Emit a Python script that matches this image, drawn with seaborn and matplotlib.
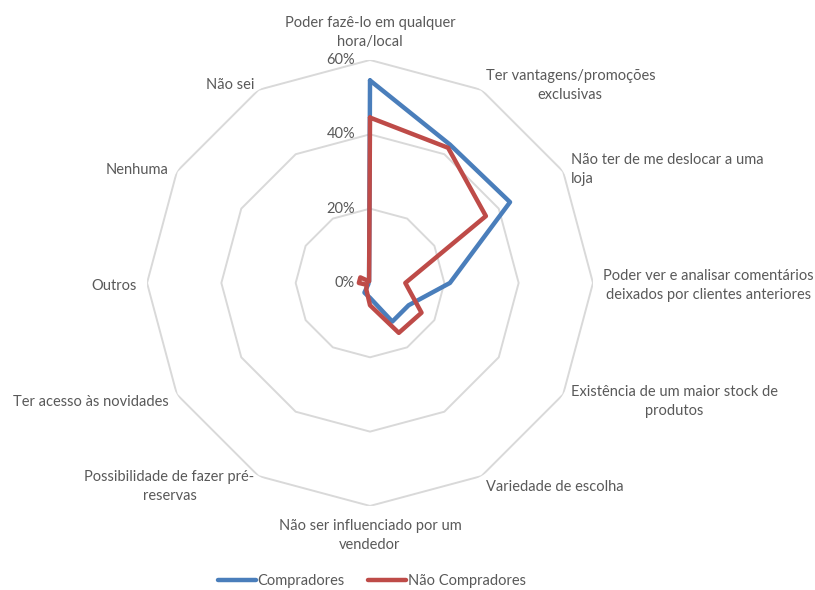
import numpy as np
import pandas as pd
import matplotlib
matplotlib.use("Agg")
import matplotlib.pyplot as plt
import seaborn as sns

# categories, clockwise from the top
categorias = [
    "Poder fazê-lo em qualquer\nhora/local",
    "Ter vantagens/promoções\nexclusivas",
    "Não ter de me deslocar a uma\nloja",
    "Poder ver e analisar comentários\ndeixados por clientes anteriores",
    "Existência de um maior stock de\nprodutos",
    "Variedade de escolha",
    "Não ser influenciado por um\nvendedor",
    "Possibilidade de fazer pré-\nreservas",
    "Ter acesso às novidades",
    "Outros",
    "Nenhuma",
    "Não sei",
]
compradores = [0.545, 0.43, 0.435, 0.215, 0.12, 0.12, 0.04, 0.03, 0.005, 0.005, 0.005, 0.005]
nao_compradores = [0.445, 0.42, 0.36, 0.095, 0.16, 0.155, 0.06, 0.02, 0.01, 0.03, 0.03, 0.005]
series = ["Compradores", "Não Compradores"]
r_ticks = [0.0, 0.2, 0.4, 0.6]
r_tick_labels = ["0%", "20%", "40%", "60%"]

cores = ["#4A7EBB", "#BE4B48"]
texto = "#595959"
grelha = "#D9D9D9"

sns.set_theme(style="white")
plt.rcParams["font.family"] = ["Lato", "DejaVu Sans"]

n = len(categorias)
angulos = np.arange(n) * 2 * np.pi / n
ang_fechado = np.append(angulos, angulos[0])

# long-form table, closing each polygon
rows = []
for nome, vals in zip(series, [compradores, nao_compradores]):
    vf = list(vals) + [vals[0]]
    for k, (a, v) in enumerate(zip(ang_fechado, vf)):
        rows.append({"ang": a, "valor": v, "serie": nome, "ordem": k})
df = pd.DataFrame(rows)

fig = plt.figure(figsize=(8.15, 5.9), dpi=100)
ax = fig.add_axes([0.1804, 0.1424, 0.5472, 0.756], projection="polar")
ax.set_theta_zero_location("N")
ax.set_theta_direction(-1)
ax.set_ylim(0, 0.6)
ax.grid(False)
ax.spines["polar"].set_visible(False)
ax.set_xticks([])
ax.set_yticks([])
ax.patch.set_alpha(0)

# polygonal rings
for r in r_ticks[1:]:
    ax.plot(ang_fechado, [r] * len(ang_fechado), color=grelha, lw=1.4, zorder=1)

sns.lineplot(data=df, x="ang", y="valor", hue="serie", units="serie",
             estimator=None, sort=False, palette=cores, lw=3.2, ax=ax,
             legend=False, zorder=3)
for ln in ax.get_lines():
    ln.set_solid_joinstyle("round")
    ln.set_solid_capstyle("round")

# radial tick labels
for r, lab in zip(r_ticks, r_tick_labels):
    ax.annotate(lab, xy=(0, r), xytext=(-15, 0), textcoords="offset pixels",
                ha="right", va="center", fontsize=10.5, color=texto)

# category labels
for i, (a, lab) in enumerate(zip(angulos, categorias)):
    s = np.sin(a)
    c = np.cos(a)
    if abs(s) < 1e-6:
        ha = "center"
        va = "bottom" if c > 0 else "top"
        off = (0, 11 if c > 0 else -13)
    else:
        ha = "left" if s > 0 else "right"
        va = "center"
        off = (np.sign(s) * (2 + 8 * s * s), 9 * c - 3)
    ma = "left" if i == 2 else "center"
    ax.annotate(lab, xy=(a, 0.6), xytext=off, textcoords="offset pixels",
                ha=ha, va=va, multialignment=ma, fontsize=10.5, color=texto,
                linespacing=1.45, annotation_clip=False)

handles = [plt.Line2D([0], [0], color=cor, lw=3.2, solid_capstyle="round") for cor in cores]
fig.legend(handles, series, loc="lower center", bbox_to_anchor=(372 / 815, -0.019),
           ncol=2, frameon=False, fontsize=10.5, labelcolor=texto,
           handlelength=2.6, handletextpad=0.1, columnspacing=1.6)

fig.savefig("out.png", dpi=100)
